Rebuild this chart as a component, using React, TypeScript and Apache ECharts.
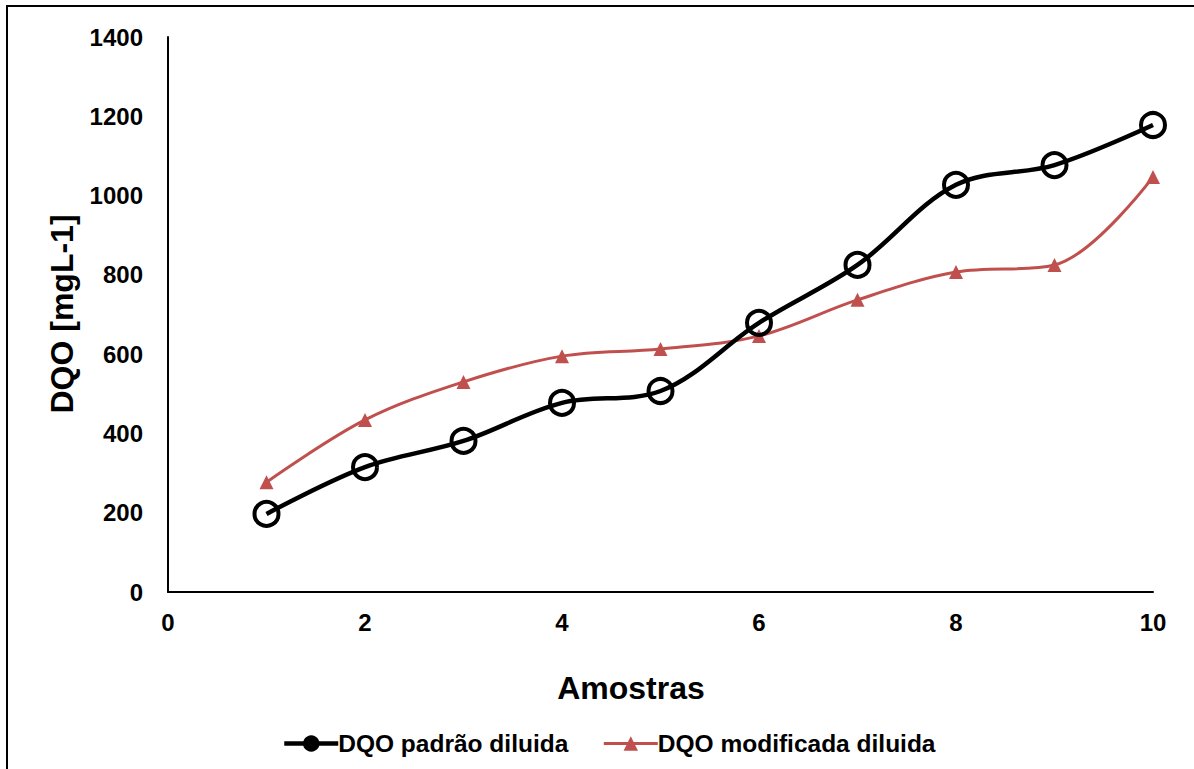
import React, { useEffect, useRef } from "react";
import * as echarts from "echarts";

const xValues = [1, 2, 3, 4, 5, 6, 7, 8, 9, 10];
const padraoValues = [197, 315, 381, 477, 507, 679, 825, 1027, 1077, 1178];
const modificadaValues = [277, 434, 530, 595, 613, 646, 737, 807, 825, 1047];
const seriesNames = ["DQO padrão diluida", "DQO modificada diluida"];
const xTitle = "Amostras";
const yTitle = "DQO [mgL-1]";

const FONT = "'Liberation Sans', Arial, sans-serif";

export default function App() {
  const ref = useRef<HTMLDivElement>(null);
  useEffect(() => {
    if (!ref.current) return;
    const chart = echarts.init(ref.current, null, { renderer: "svg" });
    chart.setOption({
      animation: false,
      backgroundColor: "#ffffff",
      grid: { left: 168, right: 41, top: 37, bottom: 177, containLabel: false },
      xAxis: {
        type: "value",
        min: 0,
        max: 10,
        interval: 2,
        axisLine: { show: true, lineStyle: { color: "#000", width: 2 } },
        axisTick: { show: false },
        splitLine: { show: false },
        axisLabel: { color: "#000", fontFamily: FONT, fontWeight: "bold", fontSize: 24, margin: 18 },
      },
      yAxis: {
        type: "value",
        min: 0,
        max: 1400,
        interval: 200,
        axisLine: { show: true, lineStyle: { color: "#000", width: 2 } },
        axisTick: { show: false },
        splitLine: { show: false },
        axisLabel: {
          color: "#000",
          fontFamily: FONT,
          fontWeight: "bold",
          fontSize: 24,
          margin: 25,
          formatter: (v: number) => String(v),
        },
      },
      legend: {
        left: 277,
        top: 726,
        itemWidth: 54,
        itemHeight: 18,
        itemGap: 34,
        textStyle: { color: "#000", fontFamily: FONT, fontWeight: "bold", fontSize: 24.5, padding: [0, 0, 0, -5] },
        data: [
          {
            name: seriesNames[0],
            itemStyle: { color: "#000", borderColor: "#000" },
            lineStyle: { width: 4.5, color: "#000" },
          },
          { name: seriesNames[1], lineStyle: { width: 3, color: "#C0504D" } },
        ],
      },
      series: [
        {
          name: seriesNames[0],
          type: "line",
          smooth: 0.35,
          data: xValues.map((x, i) => [x, padraoValues[i]]),
          lineStyle: { color: "#000", width: 4.5 },
          itemStyle: { color: "rgba(255,255,255,0)", borderColor: "#000", borderWidth: 4 },
          symbol: "circle",
          symbolSize: 24,
          z: 3,
        },
        {
          name: seriesNames[1],
          type: "line",
          smooth: 0.35,
          data: xValues.map((x, i) => [x, modificadaValues[i]]),
          lineStyle: { color: "#C0504D", width: 3 },
          itemStyle: { color: "#C0504D" },
          symbol: "triangle",
          symbolSize: 14,
          z: 2,
        },
      ],
      graphic: [
        {
          type: "rect",
          shape: { x: 7, y: 6, width: 1300, height: 900 },
          style: { fill: "none", stroke: "#000", lineWidth: 2 },
          silent: true,
        },
        {
          type: "text",
          x: 631,
          y: 688,
          style: {
            text: xTitle,
            fill: "#000",
            font: `bold 32px ${FONT}`,
            textAlign: "center",
            textVerticalAlign: "middle",
          },
        },
        {
          type: "text",
          x: 62,
          y: 314,
          rotation: Math.PI / 2,
          style: {
            text: yTitle,
            fill: "#000",
            font: `bold 32px ${FONT}`,
            textAlign: "center",
            textVerticalAlign: "middle",
          },
        },
      ],
    });
    return () => chart.dispose();
  }, []);
  return (
    <div
      ref={ref}
      style={{ position: "fixed", left: 0, top: 0, width: 1194, height: 769 }}
    />
  );
}
